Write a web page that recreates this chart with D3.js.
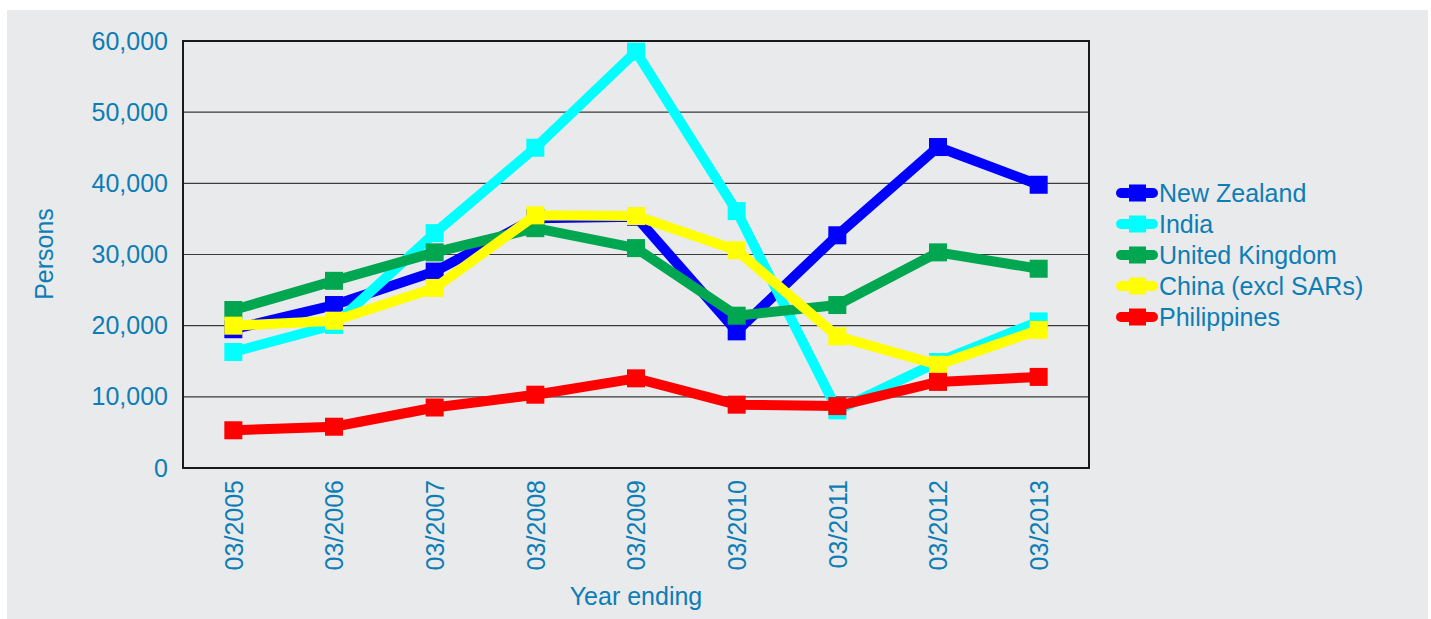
<!DOCTYPE html>
<html>
<head>
<meta charset="utf-8">
<script src="https://cdn.jsdelivr.net/npm/d3@7"></script>
<style>
  body { margin: 0; background: #fff; }
  text { font-family: "Liberation Sans", Arial, sans-serif; }
</style>
</head>
<body>
<svg id="chart" width="1431" height="619"></svg>
<script>
// Permanent & long-term arrivals by country of residence -- line chart

var years = ["03/2005", "03/2006", "03/2007", "03/2008", "03/2009",
             "03/2010", "03/2011", "03/2012", "03/2013"];

var yTicks = [0, 10000, 20000, 30000, 40000, 50000, 60000];

var newZealand  = [19500, 22900, 27600, 35100, 35300, 19200, 32700, 45100, 39800];
var india       = [16300, 20100, 33000, 45000, 58500, 36100,  8100, 14900, 20600];
var unitedKingdom = [22200, 26300, 30300, 33700, 30900, 21400, 22900, 30300, 28000];
var china       = [20000, 20700, 25300, 35500, 35400, 30600, 18500, 14500, 19400];
var philippines = [ 5300,  5800,  8500, 10300, 12600,  8900,  8700, 12100, 12800];

var seriesNames  = ["New Zealand", "India", "United Kingdom", "China (excl SARs)", "Philippines"];
var seriesColors = ["#0000ff", "#00ffff", "#00a650", "#ffff00", "#ff0000"];
var seriesValues = [newZealand, india, unitedKingdom, china, philippines];

var textColor = "#0d7db6";

var svg = d3.select("#chart");

// grey panel
svg.append("rect")
  .attr("x", 7).attr("y", 10)
  .attr("width", 1421).attr("height", 609)
  .attr("fill", "#e9eaec");

var plot = { left: 183, right: 1089, top: 41, bottom: 468 };

var x = d3.scalePoint()
  .domain(years)
  .range([plot.left, plot.right])
  .padding(0.5);

var y = d3.scaleLinear()
  .domain([0, 60000])
  .range([plot.bottom, plot.top]);

// gridlines
svg.append("g")
  .selectAll("line")
  .data(yTicks)
  .enter().append("line")
  .attr("x1", plot.left).attr("x2", plot.right)
  .attr("y1", function (d) { return y(d); })
  .attr("y2", function (d) { return y(d); })
  .attr("stroke", "#3a3a3a")
  .attr("stroke-width", 1.2);

// y axis labels
var yAxis = d3.axisLeft(y)
  .tickValues(yTicks)
  .tickSize(0)
  .tickPadding(15)
  .tickFormat(d3.format(","));

svg.append("g")
  .attr("transform", "translate(" + plot.left + ",0)")
  .call(yAxis)
  .call(function (g) { g.select(".domain").remove(); })
  .selectAll("text")
  .attr("fill", textColor)
  .style("font-size", "25px");

// x axis labels (rotated)
var xAxis = d3.axisBottom(x).tickSize(0).tickPadding(0);

svg.append("g")
  .attr("transform", "translate(0," + plot.bottom + ")")
  .call(xAxis)
  .call(function (g) { g.select(".domain").remove(); })
  .selectAll("text")
  .attr("fill", textColor)
  .style("font-size", "25px")
  .attr("text-anchor", "end")
  .attr("transform", "rotate(-90)")
  .attr("x", -12)
  .attr("y", 0)
  .attr("dy", "0.35em");

// plot border
svg.append("rect")
  .attr("x", plot.left).attr("y", plot.top)
  .attr("width", plot.right - plot.left)
  .attr("height", plot.bottom - plot.top)
  .attr("fill", "none")
  .attr("stroke", "#1a1a1a")
  .attr("stroke-width", 2);

// axis titles
svg.append("text")
  .attr("x", (plot.left + plot.right) / 2)
  .attr("y", 605)
  .attr("text-anchor", "middle")
  .attr("fill", textColor)
  .style("font-size", "25px")
  .text("Year ending");

svg.append("text")
  .attr("transform", "translate(53,254) rotate(-90)")
  .attr("text-anchor", "middle")
  .attr("fill", textColor)
  .style("font-size", "25px")
  .text("Persons");

// series
var line = d3.line()
  .x(function (d, i) { return x(years[i]); })
  .y(function (d) { return y(d); });

var markerSize = 18;

seriesValues.forEach(function (values, s) {
  var g = svg.append("g");
  g.append("path")
    .datum(values)
    .attr("d", line)
    .attr("fill", "none")
    .attr("stroke", seriesColors[s])
    .attr("stroke-width", 10)
    .attr("stroke-linejoin", "round");
  g.selectAll("rect")
    .data(values)
    .enter().append("rect")
    .attr("x", function (d, i) { return x(years[i]) - markerSize / 2; })
    .attr("y", function (d) { return y(d) - markerSize / 2; })
    .attr("width", markerSize)
    .attr("height", markerSize)
    .attr("fill", seriesColors[s]);
});

// legend
var legend = svg.append("g")
  .attr("transform", "translate(1117,193)");

var item = legend.selectAll("g")
  .data(seriesNames)
  .enter().append("g")
  .attr("transform", function (d, i) { return "translate(0," + i * 31 + ")"; });

item.append("line")
  .attr("x1", 4).attr("x2", 36)
  .attr("y1", 0).attr("y2", 0)
  .attr("stroke", function (d, i) { return seriesColors[i]; })
  .attr("stroke-width", 10)
  .attr("stroke-linecap", "round");

item.append("rect")
  .attr("x", 12).attr("y", -8.5)
  .attr("width", 17).attr("height", 17)
  .attr("fill", function (d, i) { return seriesColors[i]; });

item.append("text")
  .attr("x", 42)
  .attr("dy", "0.35em")
  .attr("fill", textColor)
  .style("font-size", "25px")
  .text(function (d) { return d; });
</script>
</body>
</html>
